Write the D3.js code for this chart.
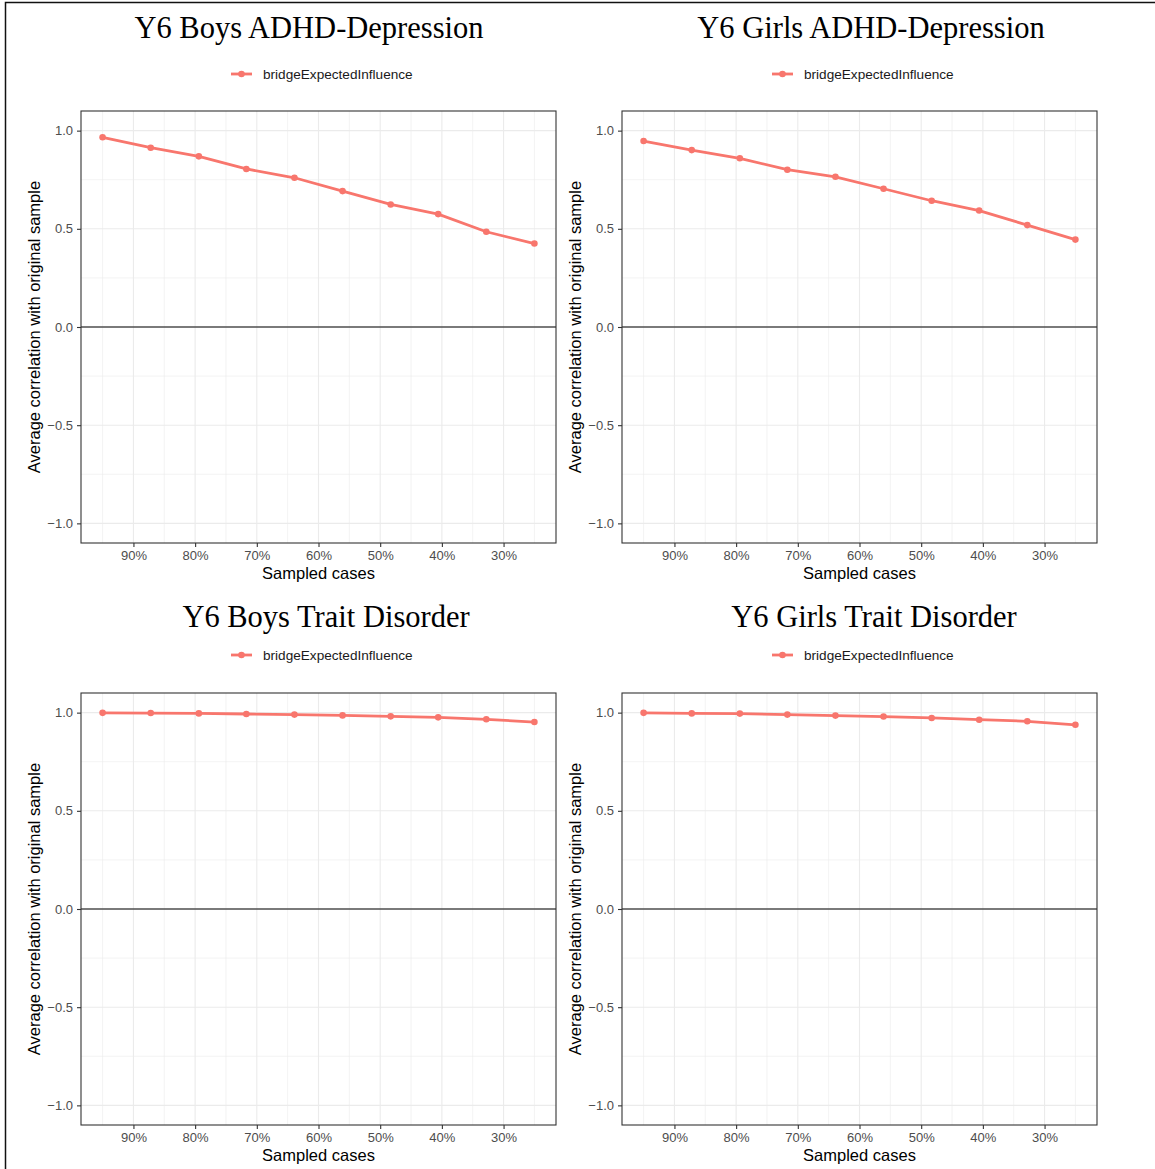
<!DOCTYPE html>
<html>
<head>
<meta charset="utf-8">
<script src="https://cdn.jsdelivr.net/npm/d3@7"></script>
<style>
  html, body { margin: 0; padding: 0; background: #fff; }
  svg { display: block; }
</style>
</head>
<body>
<svg id="chart" width="1155" height="1169"></svg>
<script>
// Percentage of cases retained at each subsampling step
const sampledCases = [95, 87.2, 79.4, 71.7, 63.9, 56.1, 48.3, 40.6, 32.8, 25.0];

// Average correlation with the original sample (bridge expected influence)
const boysAdhdDepression  = [0.966, 0.913, 0.869, 0.805, 0.760, 0.692, 0.624, 0.575, 0.485, 0.425];
const girlsAdhdDepression = [0.947, 0.901, 0.859, 0.801, 0.765, 0.704, 0.643, 0.593, 0.519, 0.445];
const boysTraitDisorder   = [0.999, 0.998, 0.996, 0.993, 0.990, 0.986, 0.981, 0.976, 0.966, 0.952];
const girlsTraitDisorder  = [0.999, 0.996, 0.995, 0.990, 0.985, 0.980, 0.973, 0.964, 0.956, 0.938];

const panelTitles = ["Y6 Boys ADHD-Depression", "Y6 Girls ADHD-Depression",
                     "Y6 Boys Trait Disorder", "Y6 Girls Trait Disorder"];
const seriesName = "bridgeExpectedInfluence";
const xTicks = [90, 80, 70, 60, 50, 40, 30];
const xMinor = [95, 85, 75, 65, 55, 45, 35, 25];
const yTicks = [-1, -0.5, 0, 0.5, 1];
const yMinor = [-0.75, -0.25, 0.25, 0.75];

const lineColor = "#F8766D";
const sans = "'Liberation Sans', Arial, sans-serif";

// Layout of the 2x2 grid
const panels = [
  { title: panelTitles[0], values: boysAdhdDepression,  x0: 81,  y0: 111, titleX: 309, titleY: 38,  legendX: 231, legendY: 74 },
  { title: panelTitles[1], values: girlsAdhdDepression, x0: 622, y0: 111, titleX: 871, titleY: 38,  legendX: 772, legendY: 74 },
  { title: panelTitles[2], values: boysTraitDisorder,   x0: 81,  y0: 693, titleX: 326, titleY: 627, legendX: 231, legendY: 655 },
  { title: panelTitles[3], values: girlsTraitDisorder,  x0: 622, y0: 693, titleX: 874, titleY: 627, legendX: 772, legendY: 655 }
];
const panelW = 475, panelH = 432;

const svg = d3.select("#chart");

// Outer frame
svg.append("rect")
  .attr("x", 5.5).attr("y", 2.5)
  .attr("width", 1300).attr("height", 1300)
  .attr("fill", "none").attr("stroke", "#111").attr("stroke-width", 1.5);

panels.forEach(p => {
  const x = d3.scaleLinear().domain([98.5, 21.5]).range([p.x0, p.x0 + panelW]);
  const y = d3.scaleLinear().domain([-1.1, 1.1]).range([p.y0 + panelH, p.y0]);
  const g = svg.append("g");

  // Title
  g.append("text")
    .attr("x", p.titleX).attr("y", p.titleY)
    .attr("text-anchor", "middle")
    .style("font-family", "'Liberation Serif', 'Times New Roman', serif")
    .style("font-size", "30.5px")
    .attr("fill", "#000")
    .text(p.title);

  // Legend
  const lg = g.append("g").attr("transform", `translate(${p.legendX},${p.legendY})`);
  lg.append("line").attr("x1", 0).attr("x2", 21).attr("y1", 0).attr("y2", 0)
    .attr("stroke", lineColor).attr("stroke-width", 2.8);
  lg.append("circle").attr("cx", 10.5).attr("cy", 0).attr("r", 3.3).attr("fill", lineColor);
  lg.append("text").attr("x", 32).attr("y", 4.8)
    .style("font-family", sans)
    .style("font-size", "13.6px").attr("fill", "#1a1a1a")
    .text(seriesName);

  // Grid
  const grid = g.append("g");
  grid.selectAll(".ymin").data(yMinor).join("line")
    .attr("x1", p.x0).attr("x2", p.x0 + panelW)
    .attr("y1", d => y(d)).attr("y2", d => y(d))
    .attr("stroke", "#EBEBEB").attr("stroke-width", 0.6);
  grid.selectAll(".xmin").data(xMinor).join("line")
    .attr("y1", p.y0).attr("y2", p.y0 + panelH)
    .attr("x1", d => x(d)).attr("x2", d => x(d))
    .attr("stroke", "#EBEBEB").attr("stroke-width", 0.6);
  grid.selectAll(".ymaj").data(yTicks).join("line")
    .attr("x1", p.x0).attr("x2", p.x0 + panelW)
    .attr("y1", d => y(d)).attr("y2", d => y(d))
    .attr("stroke", "#EBEBEB").attr("stroke-width", 1.1);
  grid.selectAll(".xmaj").data(xTicks).join("line")
    .attr("y1", p.y0).attr("y2", p.y0 + panelH)
    .attr("x1", d => x(d)).attr("x2", d => x(d))
    .attr("stroke", "#EBEBEB").attr("stroke-width", 1.1);

  // Zero reference line
  g.append("line")
    .attr("x1", p.x0).attr("x2", p.x0 + panelW)
    .attr("y1", y(0)).attr("y2", y(0))
    .attr("stroke", "#000").attr("stroke-width", 1.1);

  // Series line and points
  const pts = sampledCases.map((s, i) => [s, p.values[i]]);
  g.append("path").datum(pts)
    .attr("fill", "none").attr("stroke", lineColor).attr("stroke-width", 2.8)
    .attr("stroke-linejoin", "round")
    .attr("d", d3.line().x(d => x(d[0])).y(d => y(d[1])));
  g.selectAll(".pt").data(pts).join("circle")
    .attr("cx", d => x(d[0])).attr("cy", d => y(d[1])).attr("r", 3.3)
    .attr("fill", lineColor);

  // Panel border
  g.append("rect")
    .attr("x", p.x0).attr("y", p.y0).attr("width", panelW).attr("height", panelH)
    .attr("fill", "none").attr("stroke", "#333333").attr("stroke-width", 1.1);

  // Axes
  const yAxis = g.append("g").attr("transform", `translate(${p.x0},0)`)
    .call(d3.axisLeft(y).tickValues(yTicks).tickFormat(d3.format(".1f")).tickSize(4).tickPadding(4));
  const xAxis = g.append("g").attr("transform", `translate(0,${p.y0 + panelH})`)
    .call(d3.axisBottom(x).tickValues(xTicks).tickFormat(d => d + "%").tickSize(4).tickPadding(4));
  [yAxis, xAxis].forEach(a => {
    a.select(".domain").remove();
    a.selectAll(".tick line").attr("stroke", "#333333").attr("stroke-width", 1.1);
    a.selectAll(".tick text")
      .style("font-family", sans)
      .style("font-size", "13px").attr("fill", "#4D4D4D");
  });

  // Axis titles
  g.append("text")
    .attr("x", p.x0 + panelW / 2).attr("y", p.y0 + panelH + 36)
    .attr("text-anchor", "middle")
    .style("font-family", sans)
    .style("font-size", "16.5px").attr("fill", "#000")
    .text("Sampled cases");
  g.append("text")
    .attr("transform", `translate(${p.x0 - 41.5},${p.y0 + panelH / 2}) rotate(-90)`)
    .attr("text-anchor", "middle")
    .style("font-family", sans)
    .style("font-size", "16.5px").attr("fill", "#000")
    .text("Average correlation with original sample");
});
</script>
</body>
</html>
